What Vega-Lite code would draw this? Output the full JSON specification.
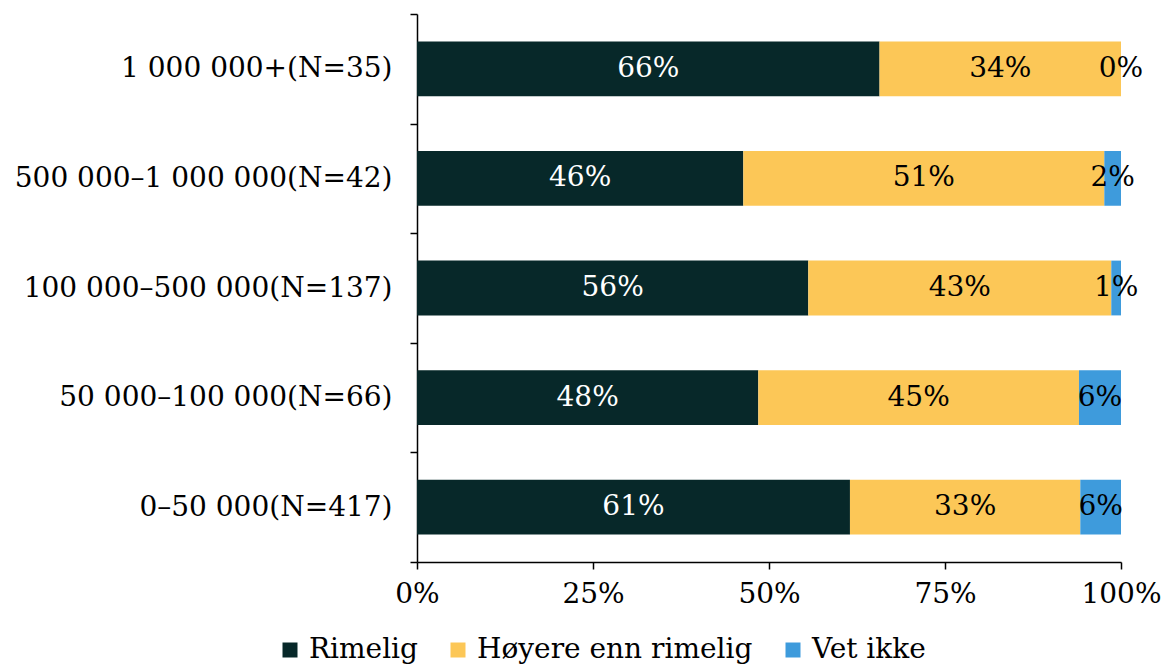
{
  "$schema": "https://vega.github.io/schema/vega-lite/v6.json",
  "autosize": {"type": "none"},
  "width": 704,
  "height": 548,
  "padding": {"left": 417, "top": 14, "right": 43, "bottom": 102},
  "background": "white",
  "config": {
    "view": {"stroke": null},
    "font": "DejaVu Serif",
    "axis": {"labelFont": "DejaVu Serif", "labelFontSize": 28, "labelColor": "black", "domainColor": "black", "tickColor": "black", "domainWidth": 1.5, "tickWidth": 1.5, "grid": false, "title": null},
    "legend": {"labelFont": "DejaVu Serif", "labelFontSize": 28, "labelColor": "black"}
  },
  "data": {
    "values": [
      {"cat": "1 000 000+(N=35)", "resp": "Rimelig", "o": 1, "value": 65.7, "label": "66%"},
      {"cat": "1 000 000+(N=35)", "resp": "Høyere enn rimelig", "o": 2, "value": 34.3, "label": "34%"},
      {"cat": "1 000 000+(N=35)", "resp": "Vet ikke", "o": 3, "value": 0.0, "label": "0%"},
      {"cat": "500 000–1 000 000(N=42)", "resp": "Rimelig", "o": 1, "value": 46.35, "label": "46%"},
      {"cat": "500 000–1 000 000(N=42)", "resp": "Høyere enn rimelig", "o": 2, "value": 51.28, "label": "51%"},
      {"cat": "500 000–1 000 000(N=42)", "resp": "Vet ikke", "o": 3, "value": 2.37, "label": "2%"},
      {"cat": "100 000–500 000(N=137)", "resp": "Rimelig", "o": 1, "value": 55.58, "label": "56%"},
      {"cat": "100 000–500 000(N=137)", "resp": "Høyere enn rimelig", "o": 2, "value": 43.04, "label": "43%"},
      {"cat": "100 000–500 000(N=137)", "resp": "Vet ikke", "o": 3, "value": 1.38, "label": "1%"},
      {"cat": "50 000–100 000(N=66)", "resp": "Rimelig", "o": 1, "value": 48.48, "label": "48%"},
      {"cat": "50 000–100 000(N=66)", "resp": "Høyere enn rimelig", "o": 2, "value": 45.55, "label": "45%"},
      {"cat": "50 000–100 000(N=66)", "resp": "Vet ikke", "o": 3, "value": 5.97, "label": "6%"},
      {"cat": "0–50 000(N=417)", "resp": "Rimelig", "o": 1, "value": 61.5, "label": "61%"},
      {"cat": "0–50 000(N=417)", "resp": "Høyere enn rimelig", "o": 2, "value": 32.72, "label": "33%"},
      {"cat": "0–50 000(N=417)", "resp": "Vet ikke", "o": 3, "value": 5.78, "label": "6%"}
    ]
  },
  "transform": [
    {"stack": "value", "groupby": ["cat"], "sort": [{"field": "o"}], "as": ["v0", "v1"]},
    {"calculate": "(datum.v0 + datum.v1) / 2", "as": "mid"}
  ],
  "encoding": {
    "y": {
      "field": "cat", "type": "nominal",
      "sort": ["1 000 000+(N=35)", "500 000–1 000 000(N=42)", "100 000–500 000(N=137)", "50 000–100 000(N=66)", "0–50 000(N=417)"],
      "scale": {"paddingInner": 0, "paddingOuter": 0},
      "axis": {"tickBand": "extent", "tickSize": 7, "labelPadding": 18, "labelLimit": 0}
    }
  },
  "layer": [
    {
      "mark": {"type": "bar", "stroke": null, "height": {"band": 0.5}},
      "encoding": {
        "x": {"field": "v0", "type": "quantitative", "scale": {"domain": [0, 100], "nice": false},
          "axis": {"values": [0, 25, 50, 75, 100], "labelExpr": "datum.value + '%'", "tickSize": 7, "labelPadding": 11, "labelFlush": false}},
        "x2": {"field": "v1"},
        "color": {
          "field": "resp", "type": "nominal",
          "scale": {"domain": ["Rimelig", "Høyere enn rimelig", "Vet ikke"], "range": ["#072829", "#FCC757", "#3E9BDC"]},
          "legend": {"title": null, "orient": "none", "direction": "horizontal", "legendX": -141, "legendY": 622, "symbolType": "square", "symbolSize": 225, "symbolStrokeWidth": 0, "labelOffset": 5, "columnPadding": 26, "labelLimit": 500}
        }
      }
    },
    {
      "mark": {"type": "text", "fontSize": 28, "font": "DejaVu Serif", "baseline": "middle", "align": "center"},
      "encoding": {
        "x": {"field": "mid", "type": "quantitative"},
        "text": {"field": "label"},
        "color": {"condition": {"test": "datum.resp === 'Rimelig'", "value": "white"}, "value": "black"}
      }
    }
  ]
}
